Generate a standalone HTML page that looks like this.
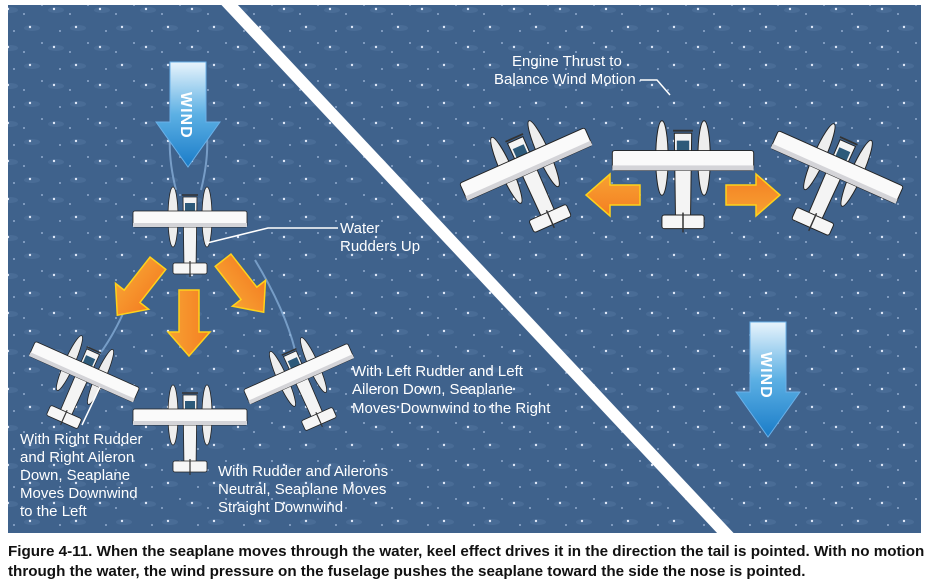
<!DOCTYPE html>
<html><head><meta charset="utf-8"><style>
body{margin:0;background:#fff;width:929px;height:585px;overflow:hidden;font-family:"Liberation Sans",sans-serif}
.cap{position:absolute;left:8px;top:542px;font-size:15.2px;font-weight:bold;line-height:20px;color:#111;letter-spacing:0px;white-space:nowrap}
</style></head><body>
<svg width="929" height="540" style="position:absolute;left:0;top:0" font-family="Liberation Sans, sans-serif">
<defs>
<pattern id="dots" width="46" height="38" patternUnits="userSpaceOnUse">
<rect width="46" height="38" fill="#3f628c"/>
<ellipse cx="10" cy="10" rx="8" ry="3" fill="#496c96"/>
<ellipse cx="32" cy="28" rx="8" ry="3" fill="#496c96"/>
<circle cx="8" cy="9" r="1.2" fill="#dfe8f8"/><circle cx="30" cy="27" r="1.2" fill="#dfe8f8"/>
<circle cx="24" cy="14" r="0.9" fill="#a9c0e0"/><circle cx="42" cy="5" r="0.9" fill="#a9c0e0"/><circle cx="14" cy="31" r="0.9" fill="#a9c0e0"/>
</pattern>
<linearGradient id="og" x1="0" y1="0" x2="1" y2="0"><stop offset="0" stop-color="#f7a233"/><stop offset="1" stop-color="#f47e22"/></linearGradient>
<linearGradient id="bg" x1="0" y1="0" x2="0" y2="1"><stop offset="0" stop-color="#e8f4fc"/><stop offset="0.5" stop-color="#5cb0e4"/><stop offset="1" stop-color="#1a7cc8"/></linearGradient>
<g id="pl">
<ellipse cx="-17" cy="0" rx="5" ry="30" fill="#eee" stroke="#222" stroke-width="0.8"/>
<ellipse cx="17" cy="0" rx="5" ry="30" fill="#eee" stroke="#222" stroke-width="0.8"/>
<path d="M-7,-20 L7,-20 L6,52 L-6,52 Z" fill="#f4f4f4" stroke="#222" stroke-width="0.8"/>
<rect x="-5" y="-14" width="10" height="8" fill="#2d5a7a"/>
<rect x="-57" y="-6" width="114" height="16" rx="2" fill="#fafafa" stroke="#222" stroke-width="0.8"/>
<rect x="-57" y="6" width="114" height="4" fill="#d4d4d8"/>
<rect x="-17" y="46" width="34" height="11" rx="2" fill="#f6f6f6" stroke="#222" stroke-width="0.8"/>
<line x1="0" y1="44" x2="0" y2="60" stroke="#333" stroke-width="1.2"/>
<line x1="-8" y1="-22" x2="8" y2="-22" stroke="#333" stroke-width="1.5"/>
</g>
<g id="oa"><path d="M-10,-34 L10,-34 L10,8 L21,8 L0,32 L-21,8 L-10,8 Z" fill="url(#og)" stroke="#ffd21a" stroke-width="1.5"/></g>
<g id="oh"><path d="M-10,-26 L10,-26 L10,4 L21,4 L0,28 L-21,4 L-10,4 Z" fill="url(#og)" stroke="#ffd21a" stroke-width="1.5"/></g>
</defs>
<rect x="8" y="5" width="913" height="528" fill="url(#dots)"/>
<line x1="225" y1="0" x2="730" y2="538" stroke="#fff" stroke-width="12"/>
<g stroke="#8fb6e0" stroke-width="2" fill="none" opacity="0.7">
<path d="M172,120 q-6,30 4,70"/><path d="M205,120 q6,30 -4,70"/>
<path d="M140,270 q-20,60 -45,90"/><path d="M255,260 q30,50 40,90"/>
</g>
<g transform="translate(188,62)">
<path d="M-18,0 L18,0 L18,60 L32,60 L0,105 L-32,60 L-18,60 Z" fill="url(#bg)" stroke="#6ab0e8" stroke-width="1"/>
<text x="0" y="0" transform="translate(-7,30) rotate(90)" font-weight="bold" font-size="16" fill="#fff" letter-spacing="1">WIND</text>
</g>
<g transform="translate(768,322)">
<path d="M-18,0 L18,0 L18,70 L32,70 L0,115 L-32,70 L-18,70 Z" fill="url(#bg)" stroke="#6ab0e8" stroke-width="1"/>
<text x="0" y="0" transform="translate(-7,30) rotate(90)" font-weight="bold" font-size="16" fill="#fff" letter-spacing="1">WIND</text>
</g>
<use href="#oa" transform="translate(137,290) rotate(38)"/>
<use href="#oa" transform="translate(189,324)"/>
<use href="#oa" transform="translate(244,287) rotate(-38)"/>
<use href="#oh" transform="translate(614,195) rotate(90)"/>
<use href="#oh" transform="translate(752,195) rotate(-90)"/>
<use href="#pl" transform="translate(190,217)"/>
<use href="#pl" transform="translate(85,370) rotate(24)"/>
<use href="#pl" transform="translate(190,415)"/>
<use href="#pl" transform="translate(298,372) rotate(-24)"/>
<use href="#pl" transform="translate(683,158) scale(1.24)"/>
<use href="#pl" transform="translate(525,162) rotate(-24) scale(1.2)"/>
<use href="#pl" transform="translate(838,165) rotate(24) scale(1.2)"/>
<g stroke="#fff" stroke-width="1.5" fill="none">
<polyline points="207,243 268,228 338,228"/>
<polyline points="640,80 657,80 670,95"/>
<line x1="100" y1="387" x2="82" y2="425"/>
</g>
<g fill="#fff" font-size="15">
<text x="340" y="233">Water</text><text x="340" y="251">Rudders Up</text>
<text x="512" y="66">Engine Thrust to</text><text x="494" y="84">Balance Wind Motion</text>
<text x="352" y="376">With Left Rudder and Left</text><text x="352" y="394">Aileron Down, Seaplane</text><text x="352" y="413">Moves Downwind to the Right</text>
<text x="20" y="444">With Right Rudder</text><text x="20" y="462">and Right Aileron</text><text x="20" y="480">Down, Seaplane</text><text x="20" y="498">Moves Downwind</text><text x="20" y="516">to the Left</text>
<text x="218" y="476">With Rudder and Ailerons</text><text x="218" y="494">Neutral, Seaplane Moves</text><text x="218" y="512">Straight Downwind</text>
</g>
</svg>
<div class="cap">Figure 4-11. When the seaplane moves through the water, keel effect drives it in the direction the tail is pointed. With no motion<br>through the water, the wind pressure on the fuselage pushes the seaplane toward the side the nose is pointed.</div>
</body></html>
